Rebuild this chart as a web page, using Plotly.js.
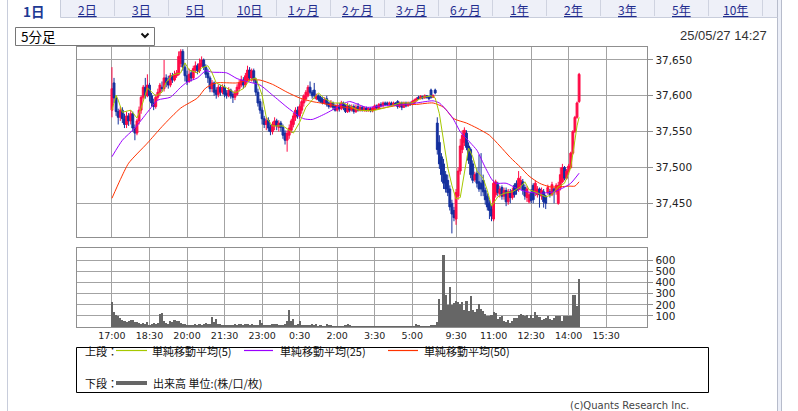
<!DOCTYPE html>
<html><head><meta charset="utf-8">
<script src="https://cdn.plot.ly/plotly-3.0.1.min.js"></script>
<style>html,body{margin:0;padding:0;background:#fff;overflow:hidden}#chart{width:798px;height:411px}</style>
</head><body><div id="chart"></div>
<script>
// ---- categories: 5-minute bar labels (night 17:00-5:55, day 8:45-15:40)
const times = [];
function pushSession(h, m, n){ for(let k=0;k<n;k++){ const t=h*60+m+5*k; times.push((Math.floor(t/60)%24)+':'+String(t%60).padStart(2,'0')); } }
pushSession(17,0,156); pushSession(8,45,84);
const tickLabels = ["17:00","18:30","20:00","21:30","23:00","0:30","2:00","3:30","5:00","9:30","11:00","12:30","14:00","15:30"];
const priceTicks = [37450,37500,37550,37600,37650];
const volTicks = [100,200,300,400,500,600];

// ---- OHLC (one per 5-minute bar, 17:00 .. 14:25)
const opens = [
37580,37618,37597,37578,37570,37580,37568,37560,37572,37565,
37575,37555,37548,37565,37580,37598,37612,37600,37615,37600,
37590,37585,37598,37605,37612,37610,37625,37620,37615,37628,
37622,37628,37630,37645,37662,37640,37628,37620,37632,37625,
37636,37642,37635,37642,37650,37640,37632,37625,37610,37618,
37608,37602,37612,37605,37612,37604,37600,37608,37602,37598,
37602,37610,37615,37622,37615,37622,37636,37625,37635,37622,
37605,37592,37580,37568,37560,37566,37556,37550,37558,37565,
37556,37562,37556,37548,37538,37545,37552,37560,37570,37580,
37572,37580,37590,37596,37600,37612,37605,37608,37596,37600,
37598,37595,37590,37596,37590,37585,37590,37585,37580,37586,
37582,37590,37586,37578,37586,37580,37585,37578,37585,37580,
37584,37580,37583,37580,37582,37579,37582,37586,37583,37588,
37586,37590,37590,37588,37590,37587,37590,37592,37585,37590,
37584,37590,37586,37590,37588,37590,37593,37598,37596,37599,
37597,37600,37598,37608,37598,37608,37562,37535,37515,37505,
37490,37482,37470,37450,37440,37428,37460,37495,37525,37535,
37548,37530,37525,37505,37483,37492,37480,37478,37482,37468,
37460,37450,37442,37428,37462,37476,37463,37472,37460,37468,
37452,37466,37458,37475,37478,37470,37476,37480,37472,37458,
37452,37464,37475,37465,37462,37470,37460,37466,37460,37465,
37466,37462,37470,37466,37450,37472,37480,37500,37485,37495,
37500,37520,37550,37570,37592];
const highs = [
37640,37625,37600,37582,37585,37584,37575,37578,37576,37580,
37578,37560,37568,37585,37600,37615,37625,37630,37618,37604,
37596,37602,37610,37618,37620,37650,37630,37628,37632,37632,
37635,37636,37662,37665,37665,37645,37635,37638,37636,37642,
37648,37645,37652,37655,37652,37644,37638,37628,37622,37620,
37612,37616,37615,37616,37615,37608,37612,37610,37606,37608,
37616,37622,37628,37626,37632,37642,37640,37638,37638,37625,
37610,37596,37584,37572,37570,37570,37560,37564,37570,37568,
37566,37565,37560,37552,37552,37560,37568,37576,37584,37585,
37588,37595,37602,37608,37615,37620,37608,37618,37603,37602,
37600,37598,37598,37600,37592,37594,37592,37588,37590,37590,
37593,37592,37588,37590,37588,37588,37588,37588,37590,37587,
37586,37585,37585,37584,37584,37585,37588,37588,37590,37591,
37592,37592,37592,37592,37592,37592,37591,37594,37592,37592,
37592,37592,37592,37592,37594,37596,37598,37600,37601,37600,
37602,37601,37600,37610,37602,37610,37570,37545,37520,37512,
37495,37490,37475,37455,37445,37470,37500,37540,37552,37556,
37552,37535,37528,37510,37494,37500,37518,37520,37490,37472,
37464,37455,37448,37482,37483,37480,37474,37475,37472,37472,
37470,37470,37472,37478,37482,37495,37488,37484,37476,37474,
37466,37470,37478,37482,37474,37472,37472,37470,37462,37476,
37470,37480,37472,37478,37480,37500,37505,37502,37498,37505,
37522,37552,37572,37592,37632];
const lows = [
37570,37590,37572,37560,37565,37562,37555,37555,37558,37560,
37550,37538,37545,37560,37575,37595,37596,37598,37592,37585,
37580,37582,37594,37600,37606,37606,37612,37610,37612,37618,
37620,37625,37628,37640,37635,37620,37615,37618,37620,37622,
37632,37630,37632,37640,37636,37625,37618,37605,37605,37600,
37596,37598,37600,37602,37598,37596,37598,37596,37590,37594,
37600,37606,37612,37610,37612,37620,37620,37620,37618,37600,
37585,37575,37560,37555,37552,37550,37545,37546,37552,37552,
37550,37550,37540,37532,37522,37540,37548,37556,37565,37568,
37568,37575,37585,37592,37598,37602,37596,37596,37594,37592,
37590,37588,37588,37585,37582,37583,37580,37578,37578,37578,
37580,37580,37576,37576,37577,37578,37575,37576,37578,37578,
37578,37578,37578,37578,37577,37577,37580,37581,37582,37584,
37585,37586,37586,37587,37585,37586,37586,37582,37583,37580,
37583,37584,37585,37586,37587,37589,37592,37594,37595,37595,
37596,37596,37594,37596,37597,37602,37518,37498,37480,37470,
37465,37460,37440,37408,37425,37420,37455,37490,37520,37530,
37524,37505,37485,37478,37480,37472,37466,37460,37460,37448,
37440,37428,37425,37425,37458,37460,37458,37455,37455,37446,
37448,37450,37455,37458,37462,37466,37470,37462,37455,37452,
37450,37450,37450,37460,37458,37444,37455,37444,37442,37462,
37458,37460,37450,37462,37448,37468,37478,37482,37483,37490,
37498,37518,37548,37568,37590];
const closes = [
37610,37597,37578,37570,37580,37568,37560,37572,37565,37575,
37555,37548,37565,37580,37598,37612,37600,37615,37600,37590,
37585,37598,37605,37615,37610,37625,37618,37615,37628,37622,
37630,37632,37655,37662,37640,37628,37620,37630,37625,37638,
37642,37635,37645,37650,37640,37630,37625,37610,37618,37605,
37602,37612,37605,37612,37602,37600,37608,37600,37598,37605,
37612,37618,37622,37615,37628,37636,37625,37635,37622,37605,
37590,37580,37568,37560,37565,37555,37550,37560,37565,37558,
37562,37556,37545,37538,37548,37555,37565,37572,37580,37572,
37585,37592,37600,37605,37612,37605,37600,37600,37600,37595,
37592,37590,37594,37588,37585,37590,37584,37580,37586,37582,
37590,37584,37578,37586,37580,37585,37578,37584,37580,37584,
37580,37583,37580,37582,37579,37583,37586,37583,37588,37586,
37590,37588,37588,37590,37587,37590,37588,37585,37590,37584,
37590,37586,37590,37588,37592,37594,37596,37596,37599,37597,
37600,37598,37596,37598,37600,37604,37525,37505,37490,37478,
37470,37465,37445,37435,37430,37465,37495,37530,37545,37552,
37528,37510,37490,37482,37490,37478,37470,37470,37466,37455,
37445,37440,37432,37478,37480,37465,37470,37460,37468,37452,
37466,37458,37468,37462,37468,37485,37482,37468,37460,37470,
37462,37454,37455,37478,37470,37462,37468,37452,37450,37472,
37462,37476,37466,37475,37475,37490,37500,37485,37495,37502,
37520,37550,37570,37590,37630];
// ---- volume per bar
const volumes = [
222,132,111,95,80,60,55,45,50,60,
66,45,40,36,30,36,30,40,20,25,
36,30,36,118,126,50,36,30,50,40,
66,55,50,35,30,25,20,20,15,20,
25,20,25,20,30,35,30,30,87,45,
75,30,25,20,20,15,20,15,20,25,
20,25,25,20,30,25,20,30,20,20,
20,66,36,20,20,15,20,30,30,25,
20,15,20,30,55,156,50,75,20,25,
50,20,15,20,15,20,28,15,28,10,
15,10,10,28,20,15,10,8,10,8,
10,8,20,30,15,8,5,5,8,5,
5,8,5,5,5,8,5,5,5,5,
5,5,5,5,5,5,8,8,5,12,
12,5,12,12,8,5,30,20,5,5,
5,10,5,20,20,20,40,250,150,655,
290,200,360,200,215,231,225,207,222,156,
231,147,282,156,132,165,210,165,141,120,
96,96,105,132,126,75,90,102,50,41,
60,36,57,81,81,105,120,111,100,111,
81,111,81,132,111,90,60,72,81,96,
72,66,81,96,96,96,50,96,96,96,
96,291,291,186,432];
// ---- moving averages (bar index, value)
const ma5Idx = [0,2,3,5,9,12,14,17,21,24,26,29,33,35,37,41,43,46,48,50,55,59,63,66,69,72,74,77,82,84,87,90,93,99,102,106,111,118,125,132,138,144,149,153,155,157,159,161,163,165,167,169,171,173,175,178,180,182,185,188,192,196,198,200,203,208,211,214,217,219,220,222,223,224];
const ma5Val = [37580,37601,37594,37577,37580,37569,37583,37611,37600,37605,37619,37629,37632,37646,37636,37632,37639,37642,37632,37618,37611,37604,37610,37622,37625,37601,37570,37558,37558,37554,37548,37563,37584,37604,37596,37590,37590,37580,37579,37584,37590,37590,37598,37600,37597,37575,37540,37500,37475,37456,37458,37495,37527,37515,37495,37485,37468,37446,37459,37464,37466,37473,37480,37469,37466,37459,37462,37473,37478,37492,37500,37538,37558,37570];
const ma25Idx = [0,5,11,17,22,28,33,36,41,45,48,55,60,66,71,77,84,89,92,96,103,111,114,122,130,138,146,154,157,161,164,167,172,175,179,182,184,189,194,199,205,212,216,220,224];
const ma25Val = [37515,37538,37555,37577,37594,37598,37612,37619,37625,37635,37633,37632,37624,37619,37615,37601,37584,37573,37568,37567,37576,37589,37592,37584,37586,37587,37590,37593,37590,37578,37566,37550,37534,37524,37500,37484,37478,37478,37471,37466,37464,37466,37471,37478,37492];
const ma50Idx = [0,4,8,17,24,33,41,45,50,60,66,71,77,84,90,96,100,106,114,122,130,138,146,154,159,164,170,175,181,186,191,196,200,205,210,215,219,222,224];
const ma50Val = [37457,37483,37506,37534,37557,37583,37597,37611,37618,37618,37622,37622,37616,37605,37597,37592,37590,37587,37583,37579,37583,37587,37588,37590,37584,37568,37562,37555,37545,37530,37514,37500,37488,37478,37473,37473,37474,37474,37480];
const tabLabels = ["1日","2日","3日","5日","10日","1ヶ月","2ヶ月","3ヶ月","6ヶ月","1年","2年","3年","5年","10年"];
const legendLabels = ["単純移動平均(5)","単純移動平均(25)","単純移動平均(50)","出来高 単位:(株/口/枚)"];

// ---- build
const idx = closes.map((_,i)=>i);
const tickVals = tickLabels.map(l=>times.indexOf(l));
const W=798,H=411, px=x=>x/W, py=y=>1-y/H;
const RED='#ff0a46', BLUE='#14309e', C5='#a6c800', C25='#9b00ff', C50='#ff3300';
const GRID='#a3a3a3', FRAME='#8f8f8f';
const JP='Noto Sans CJK JP, sans-serif';

const traces = [
 {type:'candlestick', x:idx, open:opens, high:highs, low:lows, close:closes, xaxis:'x', yaxis:'y',
  increasing:{line:{color:RED,width:1}, fillcolor:RED}, decreasing:{line:{color:BLUE,width:1}, fillcolor:BLUE},
  whiskerwidth:0, hoverinfo:'skip', showlegend:false},
 {type:'scatter', mode:'lines', x:ma50Idx, y:ma50Val, line:{color:C50,width:1,shape:'spline',smoothing:0.6}, xaxis:'x', yaxis:'y', hoverinfo:'skip'},
 {type:'scatter', mode:'lines', x:ma25Idx, y:ma25Val, line:{color:C25,width:1,shape:'spline',smoothing:0.6}, xaxis:'x', yaxis:'y', hoverinfo:'skip'},
 {type:'scatter', mode:'lines', x:ma5Idx, y:ma5Val, line:{color:C5,width:1}, xaxis:'x', yaxis:'y', hoverinfo:'skip'},
 {type:'bar', x:idx, y:volumes, width:1, marker:{color:'#666666', line:{width:0}}, xaxis:'x2', yaxis:'y2', hoverinfo:'skip'}
];

const xr=[-16.9,256.7], xdom=[px(76.7),px(647.3)];
const axCommon = {showgrid:true, gridcolor:GRID, gridwidth:1, showline:true, mirror:true, linecolor:FRAME, linewidth:1, zeroline:false, fixedrange:true};
const shapes = [];
const annotations = [];
function line(x0,y0,x1,y1,color,width){ shapes.push({type:'line',xref:'paper',yref:'paper',x0:px(x0),y0:py(y0),x1:px(x1),y1:py(y1),line:{color:color,width:width||1}}); }
function rect(x0,y0,x1,y1,fill,lc,lw){ shapes.push({type:'rect',xref:'paper',yref:'paper',x0:px(x0),y0:py(y0),x1:px(x1),y1:py(y1),fillcolor:fill,line:{color:lc||'rgba(0,0,0,0)',width:lw===undefined?1:lw},layer:'below'}); }
function text(t,x,y,anchor,size,color,family,extra){ annotations.push(Object.assign({xref:'paper',yref:'paper',x:px(x),y:py(y),text:t,showarrow:false,xanchor:anchor,yanchor:'middle',font:{size:size,color:color,family:family},borderpad:0},extra||{})); }

// tab bar
rect(60.5,-2,777,17.5,'#eef0f8','rgba(0,0,0,0)',0);
for(let k=0;k<13;k++) line(114.5+54*k,0,114.5+54*k,16,'#cfd3e0');
line(60.5,17.5,777.5,17.5,'#c8cddb');
line(60.5,-1,60.5,17.5,'#c8cddb');
line(7.5,-1,7.5,412,'#c8cddb');
rect(777.5,-1,781.5,412,'#eceff8','#b7bccb',1);
text('<b>'+tabLabels[0]+'</b>',33.5,0.2,'center',13.5,'#1d3a93',JP,{yanchor:'top'});
for(let k=1;k<tabLabels.length;k++) text('<u>'+tabLabels[k]+'</u>',87+54*(k-1),0.2,'center',12,'#1f2c8e',JP,{yanchor:'top'});
// dropdown
rect(15.5,27.5,154.5,45.5,'#ffffff','#767676',1);
shapes.push({type:'path',xref:'paper',yref:'paper',path:`M ${px(141.5)} ${py(33.5)} L ${px(145)} ${py(37)} L ${px(148.5)} ${py(33.5)}`,line:{color:'#111',width:2}});
text('5分足',20,36.5,'left',13.5,'#000',JP);
text('25/05/27 14:27',768,35,'right',13,'#333','Liberation Sans, Arial, sans-serif');
// legend
rect(76.5,347.5,708.5,392.5,'rgba(0,0,0,0)','#000',1);
line(116,350.5,147,350.5,C5,1.2); line(244,350.5,273,350.5,C25,1.2); line(388,350.5,418,350.5,C50,1.2);
line(116,383,147,383,'#666666',4);
text('上段：',84,351,'left',11,'#111',JP);
text(legendLabels[0],151,351,'left',11,'#111',JP);
text(legendLabels[1],279,351,'left',11,'#111',JP);
text(legendLabels[2],423,351,'left',11,'#111',JP);
text('下段：',84,383,'left',11,'#111',JP);
text(legendLabels[3],152,383,'left',11,'#111',JP);
text('(c)Quants Research Inc.',690,405,'right',10,'#444','DejaVu Sans, sans-serif');

const layout = {
 width:W, height:H, margin:{l:0,r:0,t:0,b:0,pad:0}, paper_bgcolor:'#fff', plot_bgcolor:'#fff',
 showlegend:false, font:{family:'DejaVu Sans, sans-serif', size:10.5, color:'#222'},
 boxgap:0.12, boxgroupgap:0, bargap:0,
 xaxis:Object.assign({domain:xdom, range:xr, anchor:'y', rangeslider:{visible:false}, tickmode:'array', tickvals:tickVals, showticklabels:false, ticks:''}, axCommon),
 yaxis:Object.assign({domain:[py(236.7),py(47.3)], range:[37403.4,37667.7], anchor:'x', side:'right', tickmode:'array', tickvals:priceTicks, tickformat:',d', ticks:'outside', ticklen:5, tickcolor:FRAME, tickfont:{size:10.5,color:'#222'}}, axCommon),
 xaxis2:Object.assign({domain:xdom, range:xr, anchor:'y2', tickmode:'array', tickvals:tickVals, ticktext:tickLabels, ticks:'', tickfont:{size:9.5,color:'#222'}}, axCommon),
 yaxis2:Object.assign({domain:[py(326.9),py(248.3)], range:[0,712], anchor:'x2', side:'right', tickmode:'array', tickvals:volTicks, ticks:'outside', ticklen:5, tickcolor:FRAME, tickfont:{size:10.5,color:'#222'}}, axCommon),
 shapes:shapes, annotations:annotations
};
Plotly.newPlot('chart', traces, layout, {staticPlot:true, displayModeBar:false});
</script></body></html>
